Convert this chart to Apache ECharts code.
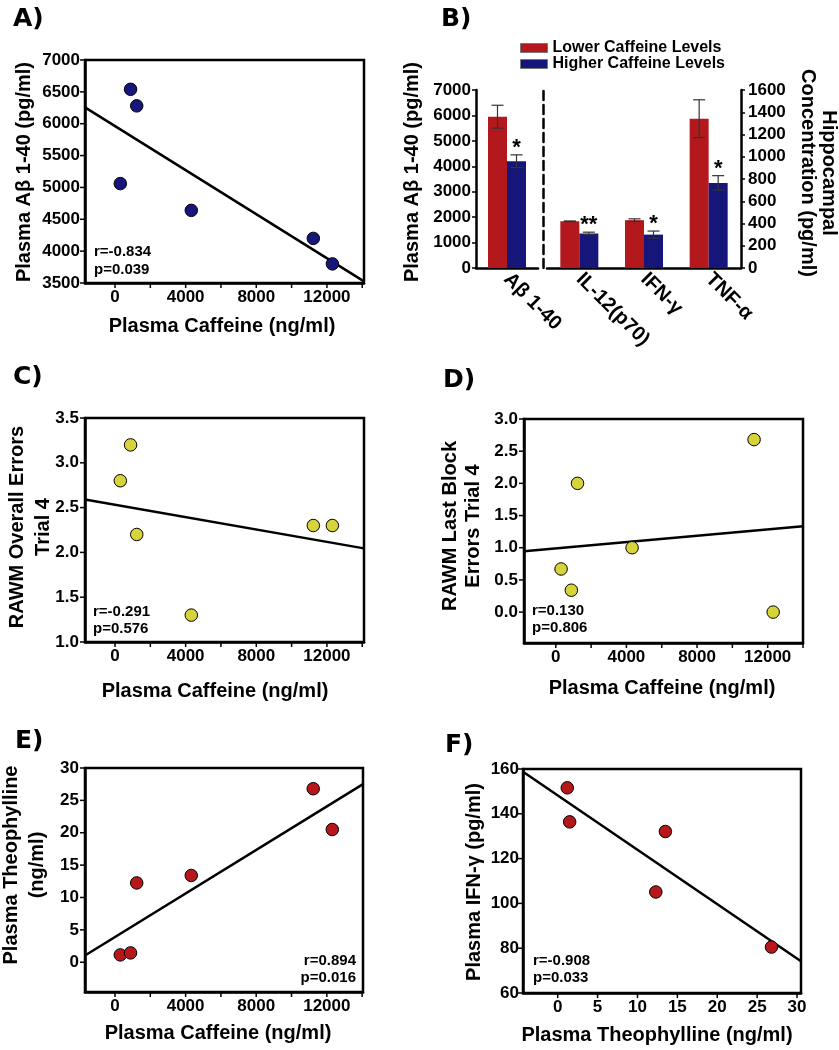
<!DOCTYPE html>
<html><head><meta charset="utf-8">
<script src="https://cdn.jsdelivr.net/npm/echarts@6/dist/echarts.min.js"></script>
<style>html,body{margin:0;padding:0;background:#fff}#c{width:839px;height:1050px}</style>
</head><body><div id="c"></div>
<script>
// ---------- data ----------
const caffeine = [300, 880, 1230, 4320, 11230, 12310];
const abeta = [5060, 6540, 6280, 4640, 4200, 3800];
const rawmOverall = [2.8, 3.2, 2.2, 1.3, 2.3, 2.3];
const rawmLastBlock = [0.67, 0.34, 2.0, 1.0, 2.68, 0.0];
const theophylline = [1.13, 1.44, 12.25, 13.4, 26.8, 20.5];
const theophyllineF = [1.2, 1.5, 13.5, 12.3, 26.8];
const ifnGamma = [151.6, 136.4, 132.1, 105.1, 80.5];

const fitA = [[-1700, 6257], [14100, 3525]];
const fitC = [[-1700, 2.59], [14100, 2.045]];
const fitD = [[-1800, 0.944], [14000, 1.333]];
const fitE = [[-1700, 1.03], [14050, 27.5]];
const fitF = [[-4.35, 158.8], [30.5, 74.2]];

const barCatsLeft = ['A\u03b2 1-40'];
const barCatsRight = ['IL-12(p70)', 'IFN-\u03b3', 'TNF-\u03b1'];
const lowerMean = [5950, 420, 430, 1342];
const lowerSE = [450, 3, 12, 170];
const higherMean = [4200, 310, 300, 765];
const higherSE = [250, 12, 32, 65];
const sigMarks = ['*', '**', '*', '*'];

const caffeineLabels = [0, 4000, 8000, 12000];
const caffeineTicks = [0, 2000, 4000, 6000, 8000, 10000, 12000, 14000];
const abetaTicks = [3500, 4000, 4500, 5000, 5500, 6000, 6500, 7000];
const overallTicks = [1.0, 1.5, 2.0, 2.5, 3.0, 3.5];
const lastBlockTicks = [0, 0.5, 1.0, 1.5, 2.0, 2.5, 3.0];
const theoTicks = [0, 5, 10, 15, 20, 25, 30];
const ifnTicks = [60, 80, 100, 120, 140, 160];

// ---------- styling ----------
const FONT = '"Liberation Sans", Arial, Helvetica, sans-serif';
const NAVY = '#17167a', YEL = '#d6d43a', DRED = '#b5171b';
const BAR_RED = '#b3191c', BAR_BLUE = '#15157a';
const BW = 19;

const chart = echarts.init(document.getElementById('c'), null, {renderer: 'canvas', width: 839, height: 1050});

const boxGrid = (l, t, w, h) => ({left: l, top: t, width: w, height: h, show: true, borderColor: '#000', borderWidth: 2.5, backgroundColor: 'transparent'});
const grids = [
  boxGrid(85, 60, 279, 223),
  {left: 476, top: 90, width: 62, height: 178},
  {left: 547, top: 90, width: 194, height: 178},
  boxGrid(85, 418, 279, 224),
  boxGrid(524, 419, 279, 224),
  boxGrid(85, 768, 278, 224),
  boxGrid(523, 769, 278, 224)
];

// axis ranges of the scatter panels  [xmin, xmax, ymin, ymax]
const rangeA = [-1700, 14100, 3500, 7000];
const rangeC = [-1700, 14100, 1.0, 3.5];
const rangeD = [-1800, 14000, -0.48, 3.0];
const rangeE = [-1700, 14050, -4.6, 30];
const rangeF = [-4.35, 30.5, 60, 160];

const lblStyle = {color: '#000', fontFamily: FONT, fontWeight: 'bold', fontSize: 17};
function valAxis(gi, min, max, labels, fmt, margin) {
  return {
    type: 'value', gridIndex: gi, min: min, max: max,
    splitLine: {show: false},
    axisLine: {show: true, onZero: false, lineStyle: {color: '#000', width: 2.5}},
    axisTick: {show: false},
    axisLabel: Object.assign({show: true, customValues: labels, formatter: fmt, margin: margin}, lblStyle)
  };
}
const f0 = v => String(Math.round(v));
const f1 = v => Number(v).toFixed(1);

const xAxes = [
  valAxis(0, rangeA[0], rangeA[1], caffeineLabels, f0, 6),
  {type: 'category', gridIndex: 1, data: barCatsLeft, axisLine: {show: true, onZero: false, lineStyle: {color: '#000', width: 2.5}}, axisTick: {show: false},
   axisLabel: Object.assign({rotate: -45, margin: 8}, lblStyle, {fontSize: 20})},
  {type: 'category', gridIndex: 2, data: barCatsRight, axisLine: {show: true, onZero: false, lineStyle: {color: '#000', width: 2.5}}, axisTick: {show: false},
   axisLabel: Object.assign({rotate: -45, margin: 8}, lblStyle, {fontSize: 20})},
  valAxis(3, rangeC[0], rangeC[1], caffeineLabels, f0, 6),
  valAxis(4, rangeD[0], rangeD[1], caffeineLabels, f0, 6),
  valAxis(5, rangeE[0], rangeE[1], caffeineLabels, f0, 6),
  valAxis(6, rangeF[0], rangeF[1], theoTicks, f0, 6)
];

const yAxes = [
  valAxis(0, rangeA[2], rangeA[3], abetaTicks, f0, 5),
  {type: 'value', gridIndex: 1, min: 0, max: 7000, interval: 1000, position: 'left', splitLine: {show: false},
   axisLine: {show: true, onZero: false, lineStyle: {color: '#000', width: 2.5}}, axisTick: {show: true, length: 4, lineStyle: {color: '#000', width: 1.5}},
   axisLabel: Object.assign({margin: 5, formatter: f0}, lblStyle)},
  {type: 'value', gridIndex: 2, min: 0, max: 1600, interval: 200, position: 'right', splitLine: {show: false},
   axisLine: {show: true, onZero: false, lineStyle: {color: '#000', width: 2.5}}, axisTick: {show: true, length: 4, lineStyle: {color: '#000', width: 1.5}},
   axisLabel: Object.assign({margin: 7, formatter: f0}, lblStyle)},
  valAxis(3, rangeC[2], rangeC[3], overallTicks, f1, 6),
  valAxis(4, rangeD[2], rangeD[3], lastBlockTicks, f1, 6),
  valAxis(5, rangeE[2], rangeE[3], theoTicks, f0, 6),
  valAxis(6, rangeF[2], rangeF[3], ifnTicks, f0, 4),
  {type: 'value', gridIndex: 1, min: 0, max: 7000, position: 'right', offset: 5, splitLine: {show: false},
   axisLine: {show: true, onZero: false, lineStyle: {color: '#000', width: 2.5, type: [9, 5]}}, axisTick: {show: false}, axisLabel: {show: false}}
];

function scatterSeries(ai, xs, ys, color) {
  return {type: 'scatter', xAxisIndex: ai, yAxisIndex: ai, data: xs.map((x, i) => [x, ys[i]]), symbolSize: 12.5,
          itemStyle: {color: color, borderColor: '#000', borderWidth: 1, opacity: 1}, z: 3, silent: true};
}
function fitSeries(ai, pts) {
  return {type: 'line', xAxisIndex: ai, yAxisIndex: ai, data: pts, symbol: 'none', lineStyle: {color: '#000', width: 2.5}, z: 2, silent: true, animation: false};
}
// outward tick marks drawn through the axes' scales
function tickRender(params, api) {
  const cs = params.coordSys;
  const flag = api.value(2);
  const p = api.coord([api.value(0), api.value(1)]);
  const L = 5;
  const shape = flag === 0
    ? {x1: p[0], y1: cs.y + cs.height, x2: p[0], y2: cs.y + cs.height + L}
    : {x1: cs.x - L, y1: p[1], x2: cs.x, y2: p[1]};
  return {type: 'line', shape: shape, style: {stroke: '#000', lineWidth: 1.5}};
}
function tickSeries(ai, range, xt, yt) {
  const data = xt.map(v => [v, range[2], 0]).concat(yt.map(v => [range[0], v, 1]));
  return {type: 'custom', xAxisIndex: ai, yAxisIndex: ai, data: data, renderItem: tickRender, encode: {x: 0, y: 1}, clip: false, silent: true, z: 1};
}

function errRender(params, api) {
  const ci = api.value(0), m = api.value(1), se = api.value(2), side = api.value(3), src = api.value(4);
  const c = api.coord([ci, m]);
  const x = c[0] + side * BW / 2;
  const yt = api.coord([ci, m + se])[1], yb = api.coord([ci, m - se])[1];
  const cw = 6;
  const ls = {stroke: '#333', lineWidth: 1.2};
  const children = [
    {type: 'line', shape: {x1: x, y1: yt, x2: x, y2: yb}, style: ls},
    {type: 'line', shape: {x1: x - cw, y1: yt, x2: x + cw, y2: yt}, style: ls},
    {type: 'line', shape: {x1: x - cw, y1: yb, x2: x + cw, y2: yb}, style: ls}
  ];
  if (side > 0 && sigMarks[src]) {
    children.push({type: 'text', x: x, y: yt + 4, style: {text: sigMarks[src], font: 'bold 22px ' + FONT, fill: '#000',
      align: 'center', verticalAlign: 'bottom', textAlign: 'center', textVerticalAlign: 'bottom'}});
  }
  return {type: 'group', children: children};
}

const errLeft = [[0, lowerMean[0], lowerSE[0], -1, 0], [0, higherMean[0], higherSE[0], 1, 0]];
const errRight = [];
for (let i = 1; i < lowerMean.length; i++) {
  errRight.push([i - 1, lowerMean[i], lowerSE[i], -1, i]);
  errRight.push([i - 1, higherMean[i], higherSE[i], 1, i]);
}

const series = [
  fitSeries(0, fitA), scatterSeries(0, caffeine, abeta, NAVY), tickSeries(0, rangeA, caffeineTicks, abetaTicks),
  {name: 'Lower Caffeine Levels', type: 'bar', xAxisIndex: 1, yAxisIndex: 1, data: lowerMean.slice(0, 1), barWidth: BW, barGap: '0%', itemStyle: {color: BAR_RED}},
  {name: 'Higher Caffeine Levels', type: 'bar', xAxisIndex: 1, yAxisIndex: 1, data: higherMean.slice(0, 1), barWidth: BW, barGap: '0%', itemStyle: {color: BAR_BLUE}},
  {name: 'Lower Caffeine Levels', type: 'bar', xAxisIndex: 2, yAxisIndex: 2, data: lowerMean.slice(1), barWidth: BW, barGap: '0%', itemStyle: {color: BAR_RED}},
  {name: 'Higher Caffeine Levels', type: 'bar', xAxisIndex: 2, yAxisIndex: 2, data: higherMean.slice(1), barWidth: BW, barGap: '0%', itemStyle: {color: BAR_BLUE}},
  {type: 'custom', xAxisIndex: 1, yAxisIndex: 1, data: errLeft, renderItem: errRender, encode: {x: 0, y: 1}, z: 5, silent: true},
  {type: 'custom', xAxisIndex: 2, yAxisIndex: 2, data: errRight, renderItem: errRender, encode: {x: 0, y: 1}, z: 5, silent: true},
  fitSeries(3, fitC), scatterSeries(3, caffeine, rawmOverall, YEL), tickSeries(3, rangeC, caffeineTicks, overallTicks),
  fitSeries(4, fitD), scatterSeries(4, caffeine, rawmLastBlock, YEL), tickSeries(4, rangeD, caffeineTicks, lastBlockTicks),
  fitSeries(5, fitE), scatterSeries(5, caffeine, theophylline, DRED), tickSeries(5, rangeE, caffeineTicks, theoTicks),
  fitSeries(6, fitF), scatterSeries(6, theophyllineF, ifnGamma, DRED), tickSeries(6, rangeF, theoTicks, ifnTicks)
];

function T(text, x, y, size, o) {
  o = o || {};
  const al = o.align || 'center';
  return {type: 'text', x: x, y: y, rotation: o.rot || 0, z: 10,
    style: {text: text, font: 'bold ' + size + 'px ' + (o.font || FONT), fill: '#000', align: al, textAlign: al,
      verticalAlign: 'middle', textVerticalAlign: 'middle', lineHeight: o.lh || size}};
}
const LF = '"DejaVu Sans", ' + FONT;
const R = Math.PI / 2;
const graphic = [
  T('A)', 13, 19, 25, {align: 'left', font: LF}),
  T('B)', 441, 19, 25, {align: 'left', font: LF}),
  T('C)', 13, 377, 25, {align: 'left', font: LF}),
  T('D)', 443, 380, 25, {align: 'left', font: LF}),
  T('E)', 15, 741, 25, {align: 'left', font: LF}),
  T('F)', 445, 745, 25, {align: 'left', font: LF}),

  T('Plasma A\u03b2 1-40 (pg/ml)', 24, 172, 20, {rot: R}),
  T('Plasma A\u03b2 1-40 (pg/ml)', 412, 172, 20, {rot: R}),
  T('Hippocampal\nConcentration (pg/ml)', 818, 173, 20, {rot: -R, lh: 21}),
  T('RAWM Overall Errors\nTrial 4', 30, 527, 20, {rot: R, lh: 26}),
  T('RAWM Last Block\nErrors Trial 4', 462, 526, 20, {rot: R, lh: 23}),
  T('Plasma Theophylline\n(ng/ml)', 24, 865, 20, {rot: R, lh: 26}),
  T('Plasma IFN-\u03b3 (pg/ml)', 474, 882, 20, {rot: R}),

  T('Plasma Caffeine (ng/ml)', 222, 326, 20),
  T('Plasma Caffeine (ng/ml)', 215, 691, 20),
  T('Plasma Caffeine (ng/ml)', 662, 688, 20),
  T('Plasma Caffeine (ng/ml)', 218, 1033, 20),
  T('Plasma Theophylline (ng/ml)', 657, 1035, 20),

  T('r=-0.834', 94, 252, 15, {align: 'left'}),
  T('p=0.039', 94, 270, 15, {align: 'left'}),
  T('r=-0.291', 93, 612, 15, {align: 'left'}),
  T('p=0.576', 93, 629, 15, {align: 'left'}),
  T('r=0.130', 532, 611, 15, {align: 'left'}),
  T('p=0.806', 532, 628, 15, {align: 'left'}),
  T('r=0.894', 356, 961, 15, {align: 'right'}),
  T('p=0.016', 356, 978, 15, {align: 'right'}),
  T('r=-0.908', 533, 961, 15, {align: 'left'}),
  T('p=0.033', 533, 978, 15, {align: 'left'})
];

chart.setOption({
  animation: false,
  backgroundColor: '#fff',
  grid: grids,
  xAxis: xAxes,
  yAxis: yAxes,
  legend: {
    left: 515, top: 35, orient: 'vertical', itemWidth: 27, itemHeight: 9, itemGap: 0,
    icon: 'rect', selectedMode: false,
    data: ['Lower Caffeine Levels', 'Higher Caffeine Levels'],
    itemStyle: {borderColor: '#777', borderWidth: 1},
    textStyle: {color: '#000', fontFamily: FONT, fontWeight: 'bold', fontSize: 16, lineHeight: 16}
  },
  series: series,
  graphic: graphic
});
</script>
</body></html>
